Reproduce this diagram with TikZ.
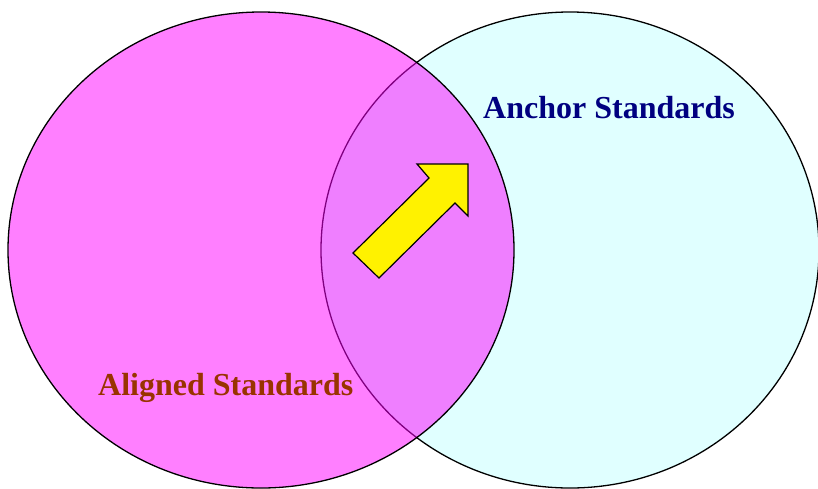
\documentclass[tikz,border=0pt]{standalone}
\usepackage{fontspec}
\setmainfont{Liberation Serif}
\definecolor{aligncol}{HTML}{FF00FF}
\definecolor{anchorfill}{HTML}{E0FFFF}
\definecolor{anchortext}{HTML}{000080}
\definecolor{alignedtext}{HTML}{993300}
\tikzset{
  setline/.style={draw=black, line width=1.3pt},
  setlabel/.style={font=\fontsize{32}{38}\selectfont\bfseries, inner sep=0pt, anchor=base west},
  pointer/.style={draw=black, fill=yellow, line width=1.2pt, line join=miter}
}
\begin{document}
\begin{tikzpicture}[x=1pt, y=-1pt]
  \useasboundingbox (0,0) rectangle (818,488);
  % anchor set (underneath)
  \fill[anchorfill] (570,250) ellipse [x radius=249pt, y radius=238pt];
  \draw[setline] (570,250) ellipse [x radius=249pt, y radius=238pt];
  % aligned set, half transparent fill over the anchor set
  \fill[aligncol, fill opacity=0.5] (261,250) ellipse [x radius=253pt, y radius=238pt];
  \draw[setline] (261,250) ellipse [x radius=253pt, y radius=238pt];
  % yellow arrow in the overlap
  \draw[pointer] (353,253) -- (429,178) -- (417,164) -- (468,164)
        -- (468,216) -- (455,203) -- (379,278) -- cycle;
  \node[setlabel, text=anchortext] (anchor) at (483,118) {Anchor Standards};
  \node[setlabel, text=alignedtext] (aligned) at (98,395) {Aligned Standards};
\end{tikzpicture}
\end{document}
